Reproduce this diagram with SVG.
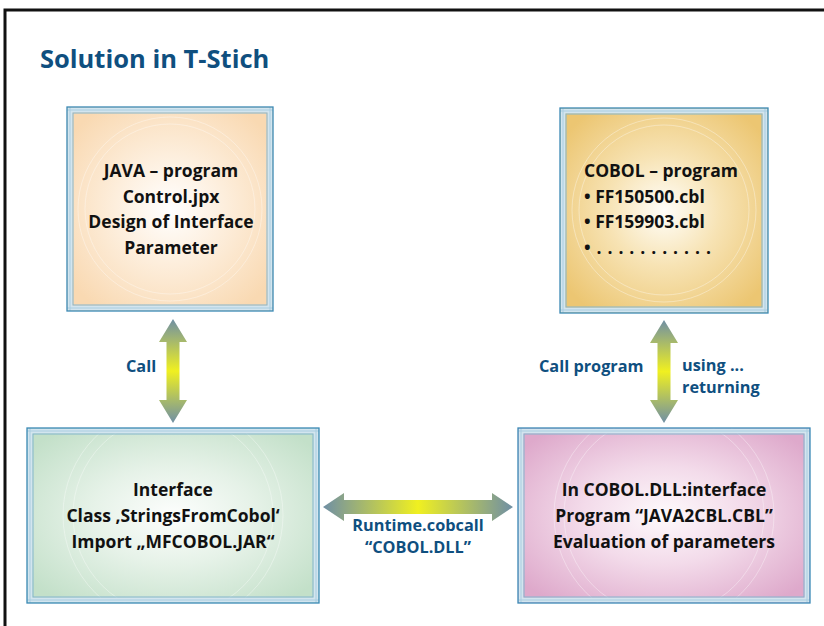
<svg xmlns="http://www.w3.org/2000/svg" width="824" height="626" viewBox="0 0 824 626">
<defs>
<style>
.nt{font-family:"Open Sans","Noto Sans","DejaVu Sans",sans-serif;font-weight:bold;font-size:17.5px;fill:#111;}
.lb{font-family:"Open Sans","Noto Sans","DejaVu Sans",sans-serif;font-weight:bold;font-size:16.3px;fill:#0f4f7f;}
.title{font-family:"Open Sans","Noto Sans","DejaVu Sans",sans-serif;font-weight:bold;font-size:25.5px;fill:#0f4f7f;}
.fo{fill:none;stroke:#3a89b5;stroke-width:1.3;}
.fb{fill:none;stroke:#d3e5ef;stroke-width:5;}
.fi{fill:none;stroke:#84b5ce;stroke-width:1;}
.fl{fill:none;stroke:#a9cde0;stroke-width:1;}
.ring{fill:none;stroke:#fff;stroke-opacity:0.35;stroke-width:1;}
</style>
<radialGradient id="gPeach" cx="50%" cy="50%" r="60%"><stop offset="0" stop-color="#ffffff"/><stop offset="0.45" stop-color="#fdeedc"/><stop offset="1" stop-color="#f9d9b2"/></radialGradient>
<radialGradient id="gGold" cx="50%" cy="50%" r="60%"><stop offset="0" stop-color="#fffefa"/><stop offset="0.45" stop-color="#f7e3b4"/><stop offset="1" stop-color="#ecc672"/></radialGradient>
<radialGradient id="gGreen" cx="50%" cy="50%" r="62%"><stop offset="0" stop-color="#fdfefd"/><stop offset="0.45" stop-color="#e6f2e8"/><stop offset="1" stop-color="#c3e0c9"/></radialGradient>
<radialGradient id="gPink" cx="50%" cy="50%" r="62%"><stop offset="0" stop-color="#fefafc"/><stop offset="0.45" stop-color="#f3dbea"/><stop offset="1" stop-color="#dea9cb"/></radialGradient>
<linearGradient id="aV" x1="0" y1="0" x2="0" y2="1"><stop offset="0" stop-color="#6f8fa5"/><stop offset="0.5" stop-color="#f0f020"/><stop offset="1" stop-color="#6f8fa5"/></linearGradient>
<linearGradient id="aH" x1="0" y1="0" x2="1" y2="0"><stop offset="0" stop-color="#6f8fa5"/><stop offset="0.5" stop-color="#f0f020"/><stop offset="1" stop-color="#6f8fa5"/></linearGradient>
</defs>
<rect width="824" height="626" fill="#fff"/>
<path d="M5,626 V10 H824" fill="none" stroke="#111" stroke-width="3"/>
<text class="title" x="40" y="68">Solution in T-Stich</text>

<g id="java">
<rect x="67" y="107" width="206" height="204" fill="url(#gPeach)"/>
<circle cx="170" cy="209" r="85" class="ring"/><circle cx="170" cy="209" r="92" class="ring"/>
<rect x="70" y="110" width="200" height="198" class="fb"/>
<rect x="73" y="113" width="194" height="192" class="fi"/>
<path d="M67,110 H273 M67,308 H273 M70,107 V311 M270,107 V311" class="fl"/>
<rect x="67" y="107" width="206" height="204" class="fo"/>
<text class="nt" text-anchor="middle"><tspan x="171" y="177">JAVA – program</tspan><tspan x="171" y="203">Control.jpx</tspan><tspan x="171" y="228">Design of Interface</tspan><tspan x="171" y="254">Parameter</tspan></text>
</g>

<g id="cobol">
<rect x="560" y="108" width="208" height="205" fill="url(#gGold)"/>
<circle cx="664" cy="210" r="85" class="ring"/><circle cx="664" cy="210" r="92" class="ring"/>
<rect x="563" y="111" width="202" height="199" class="fb"/>
<rect x="566" y="114" width="196" height="193" class="fi"/>
<path d="M560,111 H768 M560,310 H768 M563,108 V313 M765,108 V313" class="fl"/>
<rect x="560" y="108" width="208" height="205" class="fo"/>
<text class="nt"><tspan x="584" y="177">COBOL – program</tspan><tspan x="584" y="203">• FF150500.cbl</tspan><tspan x="584" y="228">• FF159903.cbl</tspan><tspan x="584" y="254" letter-spacing="0.7">• . . . . . . . . . . .</tspan></text>
</g>

<g id="interface">
<rect x="27" y="428" width="292" height="175" fill="url(#gGreen)"/>
<circle cx="173" cy="515" r="100" class="ring"/><circle cx="173" cy="515" r="110" class="ring"/>
<rect x="30" y="431" width="286" height="169" class="fb"/>
<rect x="33" y="434" width="280" height="163" class="fi"/>
<path d="M27,431 H319 M27,600 H319 M30,428 V603 M316,428 V603" class="fl"/>
<rect x="27" y="428" width="292" height="175" class="fo"/>
<text class="nt" text-anchor="middle"><tspan x="173" y="496">Interface</tspan><tspan x="173" y="522">Class ‚StringsFromCobol‘</tspan><tspan x="173" y="548">Import „MFCOBOL.JAR“</tspan></text>
</g>

<g id="cobolDll">
<rect x="518" y="428" width="292" height="175" fill="url(#gPink)"/>
<circle cx="664" cy="515" r="100" class="ring"/><circle cx="664" cy="515" r="110" class="ring"/>
<rect x="521" y="431" width="286" height="169" class="fb"/>
<rect x="524" y="434" width="280" height="163" class="fi"/>
<path d="M518,431 H810 M518,600 H810 M521,428 V603 M807,428 V603" class="fl"/>
<rect x="518" y="428" width="292" height="175" class="fo"/>
<text class="nt" text-anchor="middle"><tspan x="664" y="496">In COBOL.DLL:interface</tspan><tspan x="664" y="522">Program “JAVA2CBL.CBL”</tspan><tspan x="664" y="548">Evaluation of parameters</tspan></text>
</g>

<g id="connectors">
<polygon points="173,319 187,342 179.5,342 179.5,400 187,400 173,423 159,400 166.5,400 166.5,342 159,342" fill="url(#aV)"/>
<polygon points="664,320 678,343 670.5,343 670.5,400 678,400 664,423 650,400 657.5,400 657.5,343 650,343" fill="url(#aV)"/>
<polygon points="323,507 344,493 344,500 492,500 492,493 513,507 492,521 492,514 344,514 344,521" fill="url(#aH)"/>
<text class="lb" x="126" y="372">Call</text>
<text class="lb" x="539" y="372">Call program</text>
<text class="lb"><tspan x="682" y="371">using ...</tspan><tspan x="682" y="393">returning</tspan></text>
<text class="lb" text-anchor="middle"><tspan x="418" y="531">Runtime.cobcall</tspan><tspan x="418" y="553">“COBOL.DLL”</tspan></text>
</g>
</svg>
